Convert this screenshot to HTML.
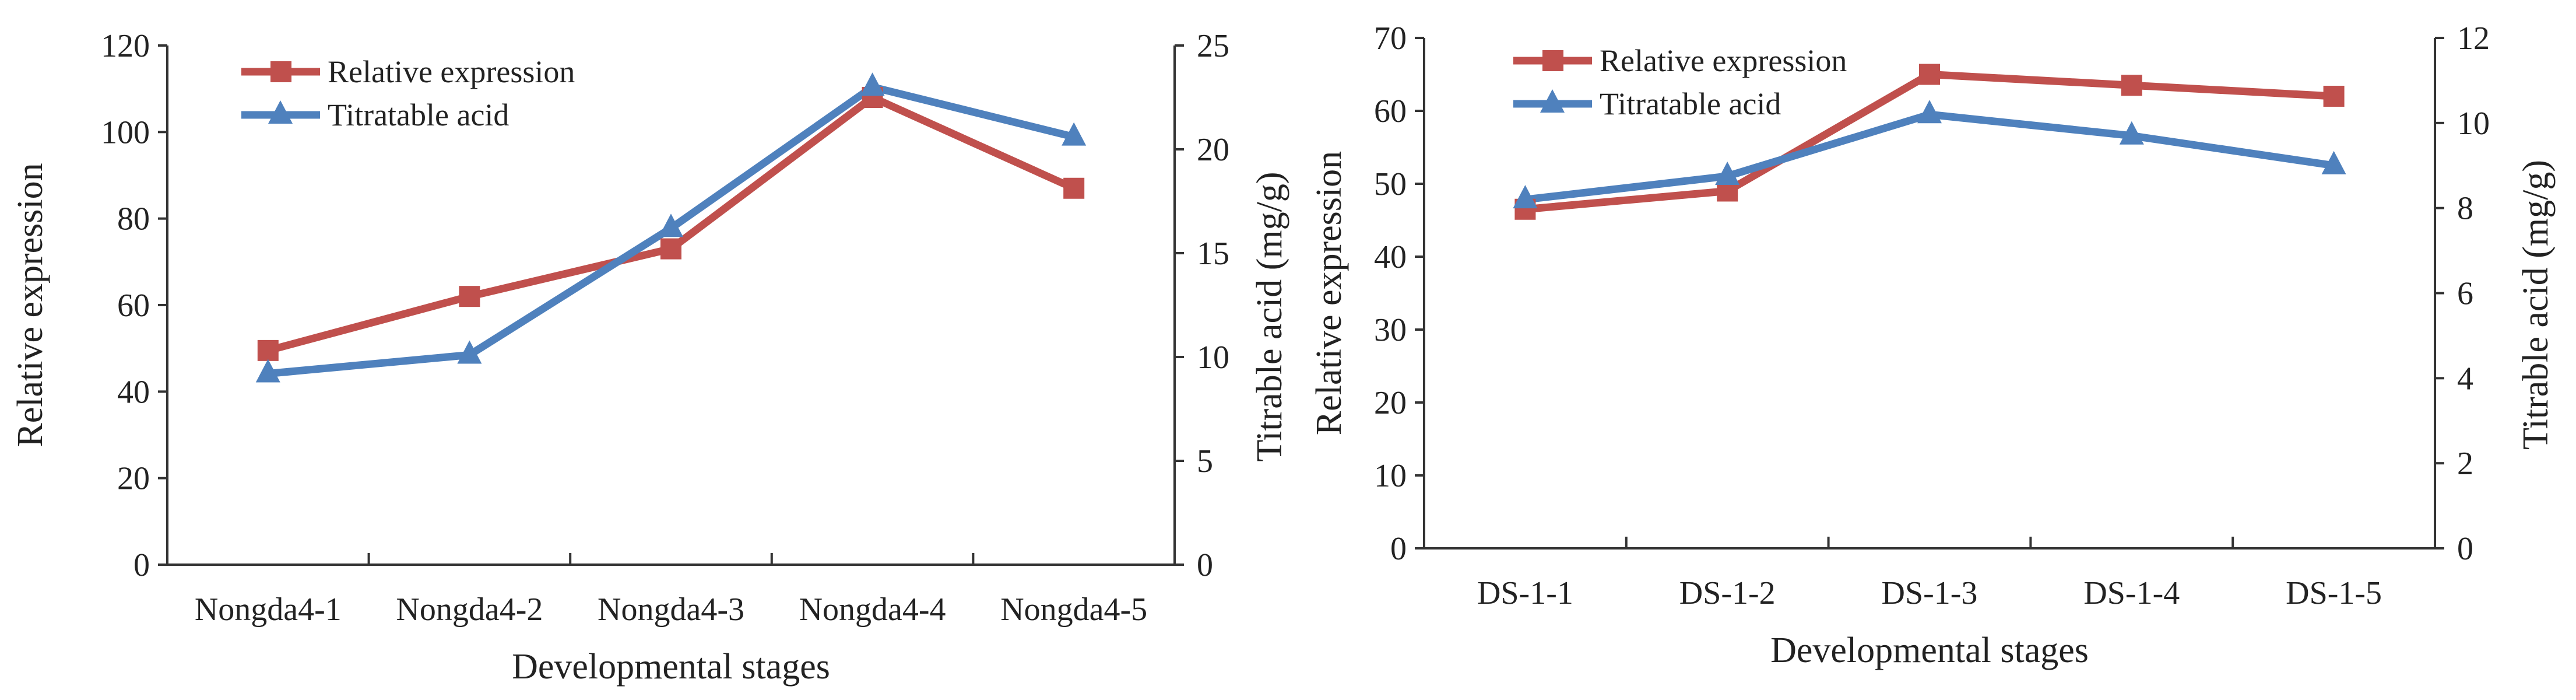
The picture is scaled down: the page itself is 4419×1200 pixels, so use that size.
<!DOCTYPE html>
<html><head><meta charset="utf-8">
<style>
html,body{margin:0;padding:0;background:#fff;}
svg{display:block;}
text{font-family:"Liberation Serif",serif;fill:#222;}
</style></head>
<body>
<svg id="c" width="4419" height="1200" viewBox="0 0 4419 1200" xmlns="http://www.w3.org/2000/svg"></svg>
<script>
// Left chart data
const catsA = ["Nongda4-1","Nongda4-2","Nongda4-3","Nongda4-4","Nongda4-5"];
const relA = [49.5, 62, 73, 108, 87];
const acidA = [9.2, 10.1, 16.2, 23.0, 20.6];
const leftTicksA = [0,20,40,60,80,100,120];
const rightTicksA = [0,5,10,15,20,25];
// Right chart data
const catsB = ["DS-1-1","DS-1-2","DS-1-3","DS-1-4","DS-1-5"];
const relB = [46.5, 49, 65, 63.5, 62];
const acidB = [8.2, 8.75, 10.2, 9.7, 9.0];
const leftTicksB = [0,10,20,30,40,50,60,70];
const rightTicksB = [0,2,4,6,8,10,12];

const NS="http://www.w3.org/2000/svg";
const svg=document.getElementById('c');
function mk(tag,attrs,parent,txt){const e=document.createElementNS(NS,tag);for(const k in attrs)e.setAttribute(k,attrs[k]);if(txt!==undefined)e.textContent=txt;(parent||svg).appendChild(e);return e;}

function chart(cfg){
  const g=mk('g',{});
  
  
  const {x0,x1,y0,y1}=cfg;
  const lMax=cfg.lt[cfg.lt.length-1], rMax=cfg.rt[cfg.rt.length-1];
  const yL=v=>y0-(v/lMax)*(y0-y1);
  const yR=v=>y0-(v/rMax)*(y0-y1);
  const n=cfg.cats.length, bw=(x1-x0)/n;
  const xc=i=>x0+bw*(i+0.5);
  const ax={stroke:'#333','stroke-width':4,fill:'none'};
  let e=mk('line',Object.assign({x1:x0,y1:y1,x2:x0,y2:y0},ax),g);
  
  e=mk('line',Object.assign({x1:x1,y1:y1,x2:x1,y2:y0},ax),g);
  
  e=mk('line',Object.assign({x1:x0,y1:y0,x2:x1,y2:y0},ax),g);
  
  cfg.lt.forEach(v=>{
    mk('line',Object.assign({x1:x0-16,y1:yL(v),x2:x0,y2:yL(v)},ax),g);
    e=mk('text',{x:x0-30,y:yL(v)+19,'font-size':56,'text-anchor':'end'},g,v);
    
  });
  cfg.rt.forEach(v=>{
    mk('line',Object.assign({x1:x1,y1:yR(v),x2:x1+16,y2:yR(v)},ax),g);
    e=mk('text',{x:x1+38,y:yR(v)+19,'font-size':56,'text-anchor':'start'},g,v);
    
  });
  for(let i=1;i<n;i++) mk('line',Object.assign({x1:x0+bw*i,y1:y0-20,x2:x0+bw*i,y2:y0},ax),g);
  cfg.cats.forEach((c,i)=>{
    e=mk('text',{x:xc(i),y:y0+95,'font-size':56,'text-anchor':'middle'},g,c);
    
  });
  e=mk('text',{x:(x0+x1)/2,y:y0+195,'font-size':62,'text-anchor':'middle'},g,'Developmental stages');
  
  e=mk('text',{x:0,y:0,'font-size':62,'text-anchor':'middle',transform:`translate(${cfg.ltx},${(y0+y1)/2}) rotate(-90)`},g,'Relative expression');
  
  e=mk('text',{x:0,y:0,'font-size':62,'text-anchor':'middle',transform:`translate(${cfg.rtx},${(y0+y1)/2+20}) rotate(-90)`},g,'Titrable acid (mg/g)');
  
  const red='#c0504d', blue='#4f81bd';
  e=mk('polyline',{points:cfg.rel.map((v,i)=>xc(i)+','+yL(v)).join(' '),fill:'none',stroke:red,'stroke-width':13,'stroke-linejoin':'round'},g);
  
  e=mk('polyline',{points:cfg.acid.map((v,i)=>xc(i)+','+yR(v)).join(' '),fill:'none',stroke:blue,'stroke-width':13,'stroke-linejoin':'round'},g);
  
  cfg.rel.forEach((v,i)=>{
    e=mk('rect',{x:xc(i)-18,y:yL(v)-18,width:36,height:36,fill:red},g);
    
  });
  cfg.acid.forEach((v,i)=>{
    const x=xc(i),y=yR(v);
    e=mk('polygon',{points:`${x},${y-25} ${x-21},${y+15} ${x+21},${y+15}`,fill:blue},g);
    
  });
  const lx=cfg.legX, ly=cfg.legY;
  const l1=mk('g',{},g);
  
  mk('line',{x1:lx,y1:ly,x2:lx+135,y2:ly,stroke:red,'stroke-width':13},l1);
  mk('rect',{x:lx+50,y:ly-18,width:36,height:36,fill:red},l1);
  mk('text',{x:lx+148,y:ly+18,'font-size':54},l1,'Relative expression');
  const l2=mk('g',{},g);
  
  const ly2=ly+74;
  mk('line',{x1:lx,y1:ly2,x2:lx+135,y2:ly2,stroke:blue,'stroke-width':13},l2);
  mk('polygon',{points:`${lx+67},${ly2-25} ${lx+46},${ly2+15} ${lx+88},${ly2+15}`,fill:blue},l2);
  mk('text',{x:lx+148,y:ly2+18,'font-size':54},l2,'Titratable acid');
}
chart({name:'left-chart',cats:catsA,rel:relA,acid:acidA,lt:leftTicksA,rt:rightTicksA,x0:287,x1:2015,y0:968,y1:78,ltx:72,rtx:2198,legX:414,legY:123});
chart({name:'right-chart',cats:catsB,rel:relB,acid:acidB,lt:leftTicksB,rt:rightTicksB,x0:2443,x1:4177,y0:940,y1:65,ltx:2300,rtx:4370,legX:2596,legY:104});
</script>
</body></html>
